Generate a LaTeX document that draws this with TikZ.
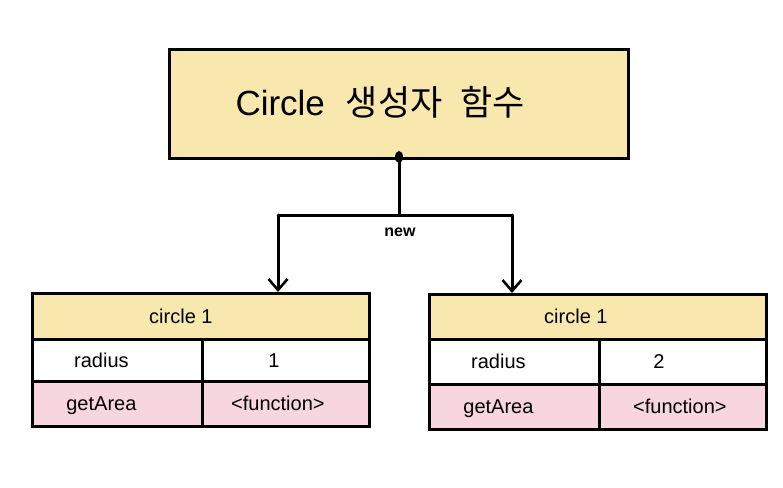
\documentclass[tikz,border=0pt]{standalone}
\usepackage{fontspec}
\setmainfont{Liberation Sans}
\newfontfamily\krfont{Noto Sans CJK KR}
\usetikzlibrary{arrows.meta}
\definecolor{hdryellow}{HTML}{F9E8AE}
\definecolor{rowpink}{HTML}{F8D6DF}
\tikzset{
  cell/.style={draw=black, line width=2.8pt, inner sep=0pt, anchor=north west},
  celltext/.style={font=\fontsize{20}{22}\selectfont, anchor=base},
  connline/.style={line width=3pt, draw=black, line cap=round},
  arrline/.style={connline, -{Straight Barb[length=11pt,width=19pt,line width=2.6pt]}}
}
\begin{document}
\begin{tikzpicture}[x=1pt,y=-1pt]
\useasboundingbox (0,0) rectangle (783,487);
% top box
\node[cell, fill=hdryellow, minimum width=459pt, minimum height=109pt] (ctor) at (168,48) {};
\node[font=\fontsize{35}{38}\selectfont, anchor=base] (ctortext) at (380,115) {Circle\hspace{0.6em}{\krfont 생성자\hspace{0.5em}함수}};
% connectors
\coordinate (dot) at (399,157);
\coordinate (split) at (399,215);
\coordinate (lft) at (278,215);
\coordinate (rgt) at (512,215);
\fill (dot) ellipse (4pt and 6pt);
\draw[connline] (dot) -- (split);
\draw[connline] (lft) -- (rgt);
\node[font=\bfseries\fontsize{16}{18}\selectfont] (newlbl) at (400,232) {new};
% left table
\node[cell, fill=hdryellow, minimum width=337pt, minimum height=46pt] (lh) at (31,292) {};
\node[cell, fill=white, minimum width=170pt, minimum height=42pt] (lr1a) at (31,338) {};
\node[cell, fill=white, minimum width=167pt, minimum height=42pt] (lr1b) at (201,338) {};
\node[cell, fill=rowpink, minimum width=170pt, minimum height=45pt] (lr2a) at (31,380) {};
\node[cell, fill=rowpink, minimum width=167pt, minimum height=45pt] (lr2b) at (201,380) {};
\node[celltext] at ([xshift=-20pt,yshift=-7pt]lh.center) {circle 1};
\node[celltext] at ([xshift=-16pt,yshift=-7pt]lr1a.center) {radius};
\node[celltext] at ([xshift=-12pt,yshift=-7pt]lr1b.center) {1};
\node[celltext] at ([xshift=-16pt,yshift=-7pt]lr2a.center) {getArea};
\node[celltext] at ([xshift=-8pt,yshift=-7pt]lr2b.center) {<function>};
% right table
\node[cell, fill=hdryellow, minimum width=337pt, minimum height=45pt] (rh) at (428,293) {};
\node[cell, fill=white, minimum width=170pt, minimum height=45pt] (rr1a) at (428,338) {};
\node[cell, fill=white, minimum width=167pt, minimum height=45pt] (rr1b) at (598,338) {};
\node[cell, fill=rowpink, minimum width=170pt, minimum height=45pt] (rr2a) at (428,383) {};
\node[cell, fill=rowpink, minimum width=167pt, minimum height=45pt] (rr2b) at (598,383) {};
\node[celltext] at ([xshift=-22pt,yshift=-7pt]rh.center) {circle 1};
\node[celltext] at ([xshift=-16pt,yshift=-7pt]rr1a.center) {radius};
\node[celltext] at ([xshift=-24pt,yshift=-7pt]rr1b.center) {2};
\node[celltext] at ([xshift=-16pt,yshift=-7pt]rr2a.center) {getArea};
\node[celltext] at ([xshift=-3pt,yshift=-7pt]rr2b.center) {<function>};
% arrows
\draw[arrline] (lft) -- (lft |- lh.north);
\draw[arrline] (rgt) -- (rgt |- rh.north);
\end{tikzpicture}
\end{document}
